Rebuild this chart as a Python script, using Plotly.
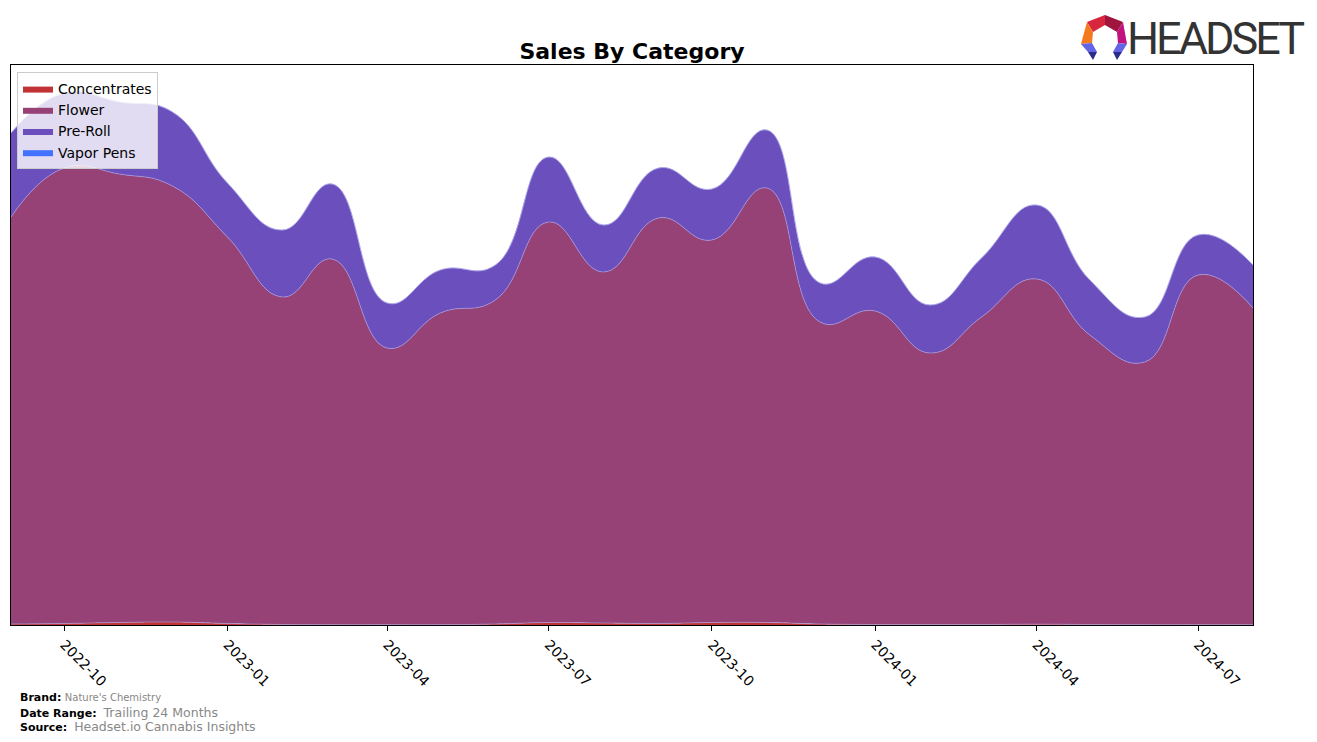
import plotly.graph_objects as go

# ---------------- data (monthly sales, USD) ----------------
months = ["2022-09-01", "2022-10-01", "2022-11-01", "2022-12-01",
          "2023-01-01", "2023-02-01", "2023-03-01", "2023-04-01",
          "2023-05-01", "2023-06-01", "2023-07-01", "2023-08-01",
          "2023-09-01", "2023-10-01", "2023-11-01", "2023-12-01",
          "2024-01-01", "2024-02-01", "2024-03-01", "2024-04-01",
          "2024-05-01", "2024-06-01", "2024-07-01", "2024-08-01"]

concentrates = [1000, 1500, 2500, 3000, 1500, 500, 300, 300,
                300, 1000, 2500, 2000, 1500, 2500, 2500, 1000,
                500, 500, 500, 800, 500, 300, 300, 300]

flower = [407000, 455500, 448500, 436000, 386500, 327500, 365700, 276700,
          311700, 324000, 400500, 351000, 405500, 382500, 434500, 302000,
          313500, 271500, 307500, 345200, 289500, 262700, 349700, 316700]

pre_roll = [84000, 75000, 72000, 74000, 54000, 67000, 75000, 45000,
            43000, 35000, 65000, 47000, 50000, 51000, 58000, 39000,
            54000, 48000, 59000, 74000, 55000, 45000, 40000, 43000]

vapor_pens = [0] * 24

tick_vals = ["2022-10-01", "2023-01-01", "2023-04-01", "2023-07-01",
             "2023-10-01", "2024-01-01", "2024-04-01", "2024-07-01"]
tick_text = ["2022-10", "2023-01", "2023-04", "2023-07",
             "2023-10", "2024-01", "2024-04", "2024-07"]

series = [
    ("Concentrates", concentrates, "rgb(192,50,52)"),
    ("Flower", flower, "rgb(150,66,119)"),
    ("Pre-Roll", pre_roll, "rgb(106,79,189)"),
    ("Vapor Pens", vapor_pens, "rgb(66,114,255)"),
]

# ---------------- figure ----------------
W, H = 1317, 742
L, R, T, B = 11, 1253, 65, 625
SMOOTH = 1.3

fig = go.Figure()
for name, vals, col in series:
    fig.add_trace(go.Scatter(
        x=months, y=vals, name=name, mode="lines",
        stackgroup="one", fillcolor=col,
        line=dict(shape="spline", smoothing=SMOOTH, width=0, color=col),
        hoverinfo="x+y+name",
    ))

# thin light boundary lines on top of each stacked layer (cumulative sums)
cum = [0] * len(months)
for name, vals, col in series:
    cum = [c + v for c, v in zip(cum, vals)]
    fig.add_trace(go.Scatter(
        x=months, y=cum, mode="lines", showlegend=False, hoverinfo="skip",
        line=dict(shape="spline", smoothing=SMOOTH, width=0.7,
                  color="rgba(170,165,235,0.85)"),
    ))

def px(x):
    return (x - L) / (R - L)

def py(y):
    return (B - y) / (B - T)

# logo icon polygons (pixel coordinates -> paper)
logo_polys = [
    ([(1087, 22), (1105, 15), (1105, 25), (1093, 32)], "#D7263D"),
    ([(1105, 15), (1123, 22), (1117, 32), (1105, 25)], "#A0153E"),
    ([(1087, 22), (1093, 32), (1092, 43), (1081, 44)], "#F47A20"),
    ([(1123, 22), (1127, 44), (1118, 43), (1117, 32)], "#C2127F"),
    ([(1081, 44), (1092, 43), (1097, 52), (1088, 52)], "#6464E6"),
    ([(1088, 52), (1097, 52), (1093, 60)], "#2B2B8C"),
    ([(1127, 44), (1118, 43), (1113, 52), (1122, 52)], "#6464E6"),
    ([(1122, 52), (1113, 52), (1117, 60)], "#2B2B8C"),
]
shapes = []
for pts, col in logo_polys:
    path = "M " + " L ".join(f"{px(a):.5f},{py(b):.5f}" for a, b in pts) + " Z"
    shapes.append(dict(type="path", xref="paper", yref="paper", path=path,
                       fillcolor=col, line=dict(width=0), layer="above"))

annotations = [
    dict(text="<span style='letter-spacing:-3px'>HEADSET</span>",
         x=px(1306), y=py(39), xref="paper", yref="paper",
         xanchor="right", yanchor="middle", showarrow=False,
         font=dict(family="Roboto", size=45, color="#333333")),
    dict(text="<b>Brand:</b> <span style='font-size:10px;color:#888888'>Nature's Chemistry</span>",
         x=px(18), y=py(697), xref="paper", yref="paper", xanchor="left",
         yanchor="middle", showarrow=False,
         font=dict(family="DejaVu Sans", size=11, color="black")),
    dict(text="<b>Date Range:</b>  <span style='font-size:12.5px;color:#888888'>Trailing 24 Months</span>",
         x=px(18), y=py(712), xref="paper", yref="paper", xanchor="left",
         yanchor="middle", showarrow=False,
         font=dict(family="DejaVu Sans", size=11, color="black")),
    dict(text="<b>Source:</b>  <span style='font-size:12.5px;color:#888888'>Headset.io Cannabis Insights</span>",
         x=px(18), y=py(726), xref="paper", yref="paper", xanchor="left",
         yanchor="middle", showarrow=False,
         font=dict(family="DejaVu Sans", size=11, color="black")),
]

fig.update_layout(
    width=W, height=H,
    margin=dict(l=L, r=W - R, t=T, b=H - B, pad=0),
    paper_bgcolor="white", plot_bgcolor="white",
    font=dict(family="DejaVu Sans", size=14, color="black"),
    title=dict(text="<b>Sales By Category</b>", x=(L + R) / 2 / W, xanchor="center",
               y=1 - 51 / H, yanchor="middle", yref="container",
               font=dict(family="DejaVu Sans", size=22, color="black")),
    legend=dict(x=px(17), y=py(72), xanchor="left", yanchor="top",
                bgcolor="rgba(255,255,255,0.8)", bordercolor="#cccccc",
                borderwidth=1, font=dict(size=14, family="DejaVu Sans"),
                traceorder="normal", itemsizing="constant",
                tracegroupgap=0),
    xaxis=dict(range=["2022-09-01", "2024-08-01"], tickmode="array",
               tickvals=tick_vals, ticktext=tick_text, tickangle=45,
               ticks="outside", ticklen=5, tickcolor="black",
               showline=True, linecolor="black", linewidth=1.2, mirror=True,
               showgrid=False, zeroline=False,
               tickfont=dict(size=14, family="DejaVu Sans")),
    yaxis=dict(range=[0, 560000], showticklabels=False, ticks="",
               showline=True, linecolor="black", linewidth=1.2, mirror=True,
               showgrid=False, zeroline=False),
    shapes=shapes,
    annotations=annotations,
    showlegend=True,
)

fig.write_html("out.html")
